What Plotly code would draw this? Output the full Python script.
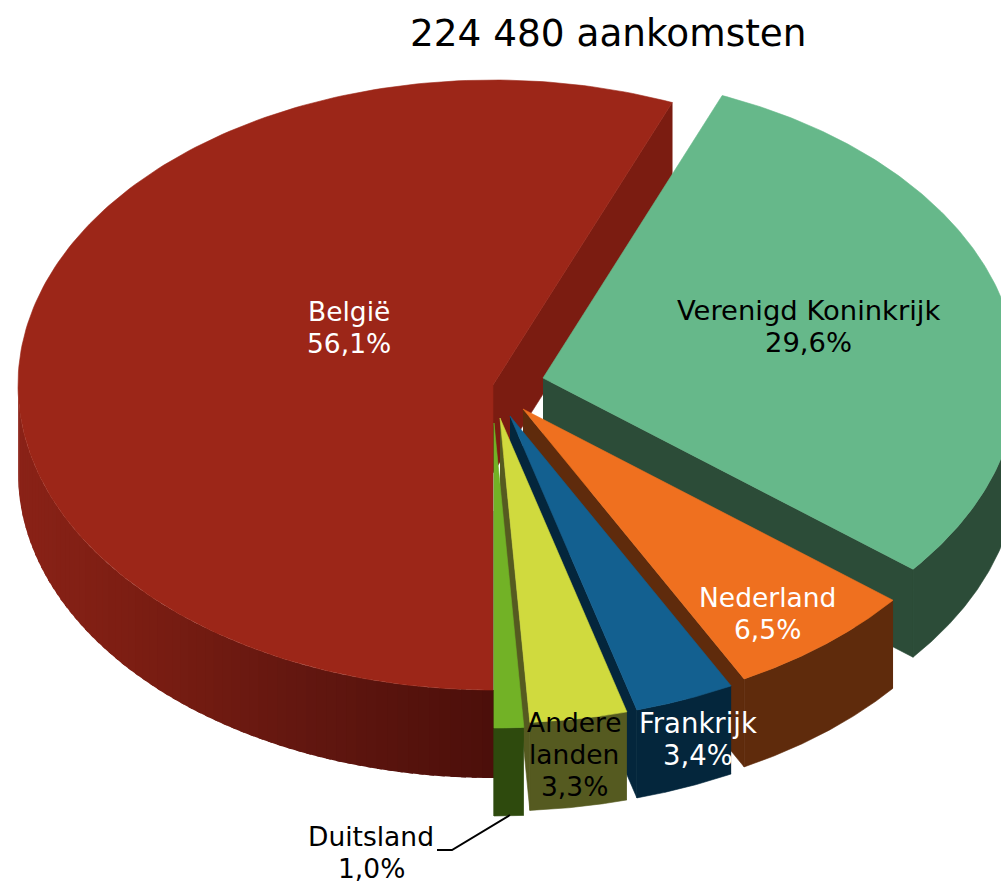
import numpy as np
import plotly.graph_objects as go

# ---- data ----
title_text = "224 480 aankomsten"
categories = ["België", "Verenigd Koninkrijk", "Nederland", "Frankrijk", "Andere<br>landen", "Duitsland"]
shares = [56.1, 29.6, 6.5, 3.4, 3.3, 1.0]
share_labels = ["56,1%", "29,6%", "6,5%", "3,4%", "3,3%", "1,0%"]

# ---- style / layout ----
top_colors = ["#9c2618", "#66b88a", "#ef701f", "#136090", "#d0da3e", "#72b226"]
side_colors = ["#7b1c11", "#2c4c38", "#5f2b0c", "#04263c", "#555a20", "#2e4a0d"]
label_colors = ["white", "black", "white", "white", "black", "black"]
label_xy = [(349, 327.5), (808, 326.5), (767, 613), (697.5, 738.5), (574, 754.5), (371, 852)]
label_sizes = [26.5, 27.4, 26.5, 27.5, 26.5, 26.5]
explode_xy = [(0, 0), (50, -7), (30, 24), (17, 31), (7, 33), (1, 38)]
CX, CY, RX, RY, DEPTH = 493, 385, 475, 305, 88
START_DEG = 180.0
FONT = "DejaVu Sans"
LINE_STEP = 32

fig = go.Figure()


def rim(cx, cy, a1, a2, n=120):
    t = np.radians(np.linspace(a1, a2, n))
    return cx + RX * np.sin(t), cy - RY * np.cos(t)


def poly(x, y, color, lw=0.6):
    fig.add_trace(go.Scatter(
        x=list(x), y=list(y), mode="lines", fill="toself", fillcolor=color,
        line=dict(color=color, width=lw), hoverinfo="skip", showlegend=False))


def lerp_color(stops, v):
    xs = [s[0] for s in stops]
    rgb = [np.interp(v, xs, [s[1][i] for s in stops]) for i in range(3)]
    return "rgb(%d,%d,%d)" % tuple(int(round(c)) for c in rgb)


BELGIE_GRAD = [(18, (138, 34, 23)), (150, (122, 29, 18)), (300, (99, 23, 16)), (493, (76, 15, 10))]

# angular extents computed from values
edges = START_DEG + np.concatenate([[0], np.cumsum(shares)]) * 360.0 / sum(shares)

for i in range(len(shares)):
    a1, a2 = edges[i], edges[i + 1]
    if i > 0:
        a1, a2 = a1 - 360, a2 - 360
    ox, oy = explode_xy[i]
    cx, cy = CX + ox, CY + oy
    # radial wall on the closing edge
    ex, ey = rim(cx, cy, a2, a2, 1)
    poly([cx, ex[0], ex[0], cx], [cy, ey[0], ey[0] + DEPTH, cy + DEPTH], side_colors[i])
    # outer wall: the part of the rim that faces the viewer
    lo, hi = max(a1, 90.0), min(a2, 270.0)
    if i == 0:
        # shaded in narrow vertical strips, drawn from left to centre so each overlaps the last
        steps = np.linspace(hi, lo, 71)
        for s1, s2 in zip(steps[:-1], steps[1:]):
            rx, ry = rim(cx, cy, s1, s2 - 0.6, 4)
            poly(np.concatenate([rx, rx[::-1]]), np.concatenate([ry, ry[::-1] + DEPTH]),
                 lerp_color(BELGIE_GRAD, rx.mean()), lw=0)
    elif hi > lo:
        rx, ry = rim(cx, cy, lo, hi)
        poly(np.concatenate([rx, rx[::-1]]), np.concatenate([ry, ry[::-1] + DEPTH]), side_colors[i])
    # top face
    rx, ry = rim(cx, cy, a1, a2, 200)
    poly(np.concatenate([[cx], rx, [cx]]), np.concatenate([[cy], ry, [cy]]), top_colors[i])

# leader line for the small slice
lead_x = [437, 452, 510]
lead_y = [850, 850, 815]
fig.add_trace(go.Scatter(x=lead_x, y=lead_y, mode="lines", line=dict(color="black", width=2),
                         hoverinfo="skip", showlegend=False))

# slice labels, one annotation per line for exact leading
for i in range(len(shares)):
    lines = categories[i].split("<br>") + [share_labels[i]]
    y0 = label_xy[i][1] - LINE_STEP * (len(lines) - 1) / 2
    for k, line in enumerate(lines):
        fig.add_annotation(x=label_xy[i][0], y=y0 + k * LINE_STEP, xref="x", yref="y",
                           text=line, showarrow=False,
                           font=dict(family=FONT, size=label_sizes[i], color=label_colors[i]))

fig.add_annotation(x=608, y=33, xref="x", yref="y", text=title_text, showarrow=False,
                   font=dict(family=FONT, size=37.4, color="black"))

fig.update_layout(
    width=1001, height=885, autosize=False,
    margin=dict(l=0, r=0, t=0, b=0),
    paper_bgcolor="white", plot_bgcolor="white", showlegend=False,
    xaxis=dict(range=[0, 1001], visible=False, fixedrange=True),
    yaxis=dict(range=[885, 0], visible=False, fixedrange=True),
)
fig.write_html("out.html", config={"displayModeBar": False},
               post_script="document.body.style.margin='0';document.body.style.overflow='hidden';")
